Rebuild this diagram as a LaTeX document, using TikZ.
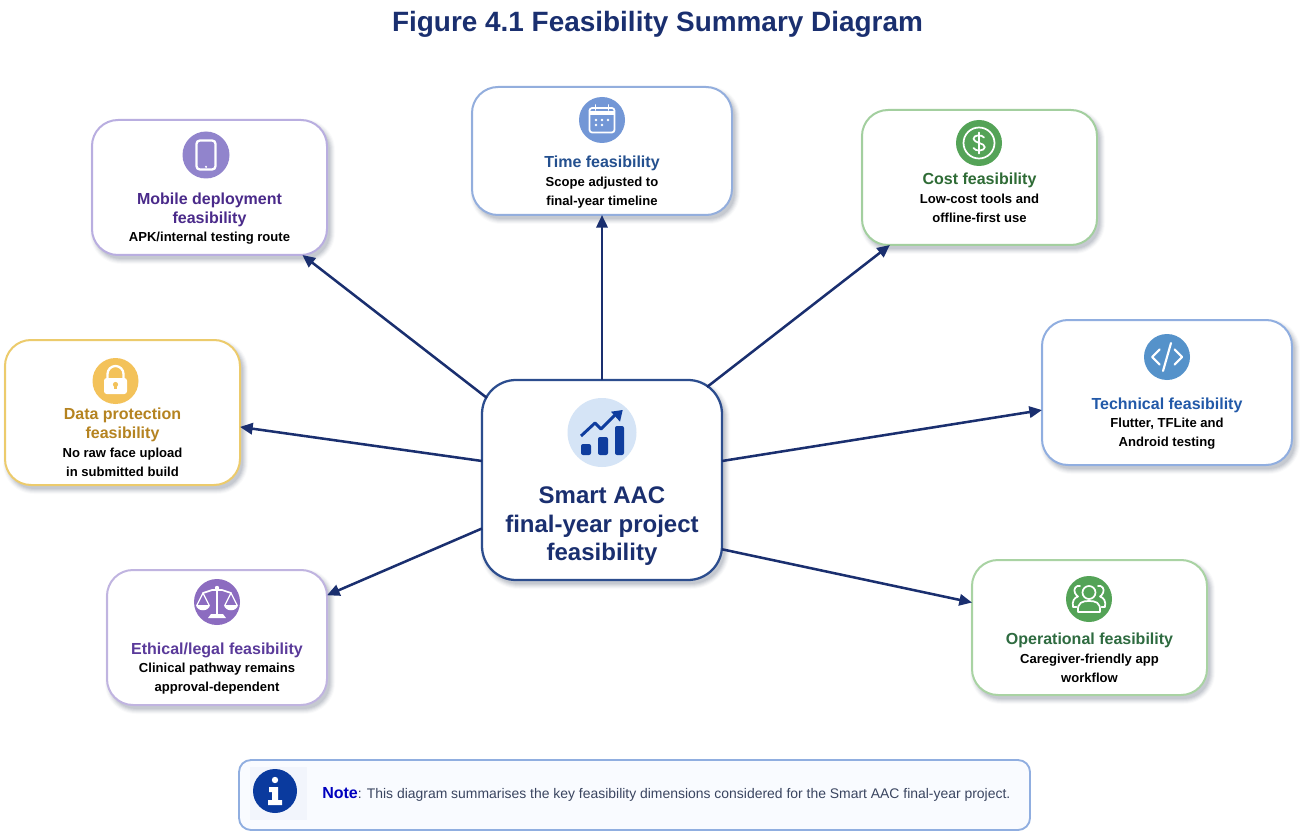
\documentclass[tikz,border=0pt]{standalone}
\usepackage{fontspec}
\setmainfont{Liberation Sans}
\usetikzlibrary{arrows.meta,calc}
\definecolor{navy}{HTML}{1A2F6F}
\definecolor{cborder}{HTML}{2C4D8E}
\definecolor{iconblue}{HTML}{0F3D9E}
\definecolor{notenavy}{HTML}{0A3A9E}
\definecolor{shadowcol}{HTML}{5A6478}
\definecolor{paleblue}{HTML}{D5E4F6}
\definecolor{notefill}{HTML}{F9FBFF}
\definecolor{notepale}{HTML}{F2F5FC}
\definecolor{notetxt}{HTML}{3A4560}
\definecolor{mobB}{HTML}{B9AEE0}\definecolor{mobI}{HTML}{9184CC}\definecolor{mobH}{HTML}{4A2A8A}
\definecolor{timB}{HTML}{93AEDD}\definecolor{timI}{HTML}{7397D6}\definecolor{timH}{HTML}{24508F}
\definecolor{cosB}{HTML}{A3CF9F}\definecolor{cosI}{HTML}{54A357}\definecolor{cosH}{HTML}{2E6B35}
\definecolor{tecB}{HTML}{90AEE0}\definecolor{tecI}{HTML}{5592CA}\definecolor{tecH}{HTML}{2259A8}
\definecolor{datB}{HTML}{ECCB6C}\definecolor{datI}{HTML}{F3C25A}\definecolor{datH}{HTML}{B58320}
\definecolor{ethB}{HTML}{C0B4E0}\definecolor{ethI}{HTML}{8C6CC0}\definecolor{ethH}{HTML}{5A3A9A}
\definecolor{opeB}{HTML}{A9D3A3}\definecolor{opeI}{HTML}{54A357}\definecolor{opeH}{HTML}{2E6B40}
\tikzset{
  x=0.75pt,y=-0.75pt,
  link/.style={draw=navy,line width=1.9pt,-{Triangle[length=9.5pt,width=8.5pt]}},
  heading/.style={font=\bfseries\fontsize{12pt}{14.3pt}\selectfont,align=center,inner sep=0pt},
  subtext/.style={font=\bfseries\fontsize{9.8pt}{14.3pt}\selectfont,align=center,inner sep=0pt,text=black},
  glyph/.style={draw=white,line width=1.3pt,line cap=round,line join=round,fill=none},
}
% name, cx, cy, w, h, radius, border colour, line width
\newcommand{\cardbox}[8]{%
  \foreach \e/\o in {5/0.03,4/0.05,3/0.06,2/0.08,1/0.09,0/0.10}{
    \fill[shadowcol,opacity=\o,rounded corners={(#6+\e)*0.75pt}]
      ({#2+3-#4/2-\e},{#3+4-#5/2-\e}) rectangle ({#2+3+#4/2+\e},{#3+4+#5/2+\e});
  }
  \node[draw=#7,line width=#8,fill=white,rounded corners=#6*0.75pt,inner sep=0pt,outer sep=0pt,
        minimum width=#4*0.75pt,minimum height=#5*0.75pt] (#1) at (#2,#3) {};
}
\begin{document}
\begin{tikzpicture}
\useasboundingbox (0,0) rectangle (1300,831);
\node[font=\bfseries\fontsize{20.95pt}{24pt}\selectfont,text=navy,inner sep=0pt] (title) at (657.5,24) {Figure 4.1 Feasibility Summary Diagram};

% cards
\cardbox{mobile}{209.5}{187.5}{235}{135}{26}{mobB}{1.5pt}
\cardbox{time}{602}{151}{260}{128}{26}{timB}{1.5pt}
\cardbox{cost}{979.5}{177.5}{235}{135}{26}{cosB}{1.5pt}
\cardbox{tech}{1167}{392.5}{250}{145}{26}{tecB}{1.5pt}
\cardbox{data}{122.5}{412.5}{235}{145}{26}{datB}{1.5pt}
\cardbox{ethic}{217}{637.5}{220}{135}{26}{ethB}{1.5pt}
\cardbox{oper}{1089.5}{627.5}{235}{135}{26}{opeB}{1.5pt}
\cardbox{centre}{602}{480}{240}{200}{34}{cborder}{1.7pt}

% ports on the rounded corners of the central card
\coordinate (portmobile) at ($(centre.center)+(-115,-82)$);
\coordinate (portcost) at ($(centre.center)+(105,-93)$);

% connectors
\draw[link] (portmobile) -- (mobile.-36.7);
\draw[link] (centre.north) -- (time.south);
\draw[link] (portcost) -- (cost.217.4);
\draw[link] (centre.9) -- (tech.188.4);
\draw[link] (centre.171.9) -- (data.-7.5);
\draw[link] (centre.202.2) -- (ethic.21.8);
\draw[link] (centre.-30.3) -- (oper.168.3);

% central icon
\fill[paleblue] (602,432.5) circle[radius=34.5];
\begin{scope}[shift={(602,432)}]
  \fill[iconblue,rounded corners=1.5pt] (-21,12) rectangle (-11,23);
  \fill[iconblue,rounded corners=1.5pt] (-4,5) rectangle (6,23);
  \fill[iconblue,rounded corners=1.5pt] (13,-6) rectangle (22,23);
  \draw[iconblue,line width=2.2pt,line join=round] (-21,4) -- (-7,-9) -- (-1,-3) -- (15,-19);
  \fill[iconblue] (20.7,-22) -- (9,-20.3) -- (18,-10.3) -- cycle;
\end{scope}
\node[font=\bfseries\fontsize{18pt}{21.3pt}\selectfont,text=navy,align=center,inner sep=0pt] (centretext) at (602,526.5) {Smart AAC\\final-year project\\feasibility};

% mobile
\fill[mobI] (206,155) circle[radius=23.5];
\begin{scope}[shift={(206,155)}]
  \draw[glyph,line width=1.7pt,rounded corners=2.5pt] (-9.5,-14.5) rectangle (9.5,14.5);
  \fill[white] (0,11.8) circle[radius=1.2];
\end{scope}
\node[heading,text=mobH] (mobilehead) at (209.5,209.5) {Mobile deployment\\feasibility};
\node[subtext] (mobilesub) at (209.5,238.5) {APK/internal testing route};

% time
\fill[timI] (602,120) circle[radius=23];
\begin{scope}[shift={(602,120)}]
  \draw[glyph,rounded corners=2pt] (-12.5,-12) rectangle (12.5,12.5);
  \fill[white] (-12.5,-8.5) rectangle (12.5,-5);
  \draw[glyph] (-6.5,-15) -- (-6.5,-10);
  \draw[glyph] (6.5,-15) -- (6.5,-10);
  \foreach \px/\py in {-6/0,0/0,6/0,-6/5,0/5}{\fill[white] (\px,\py) circle[radius=1.4];}
\end{scope}
\node[heading,text=timH] (timehead) at (602,163) {Time feasibility};
\node[subtext] (timesub) at (602,192.5) {Scope adjusted to\\final-year timeline};

% cost
\fill[cosI] (979,143) circle[radius=23];
\begin{scope}[shift={(979,143)}]
  \draw[glyph] (0,0) circle[radius=15.5];
  \draw[glyph] (5,-5.5) .. controls (3.5,-8.5) and (-6,-8.5) .. (-5.5,-4) .. controls (-5,0) and (6,0) .. (5.8,4.2) .. controls (5.5,8.5) and (-4,8.5) .. (-5.5,5);
  \draw[glyph] (0,-10.5) -- (0,10.5);
\end{scope}
\node[heading,text=cosH] (costhead) at (979.5,180) {Cost feasibility};
\node[subtext] (costsub) at (979.5,208.5) {Low-cost tools and\\offline-first use};

% technical
\fill[tecI] (1167,357) circle[radius=23];
\begin{scope}[shift={(1167,357)}]
  \draw[glyph,line width=1.6pt] (-7.5,-7.5) -- (-15,0) -- (-7.5,7.5);
  \draw[glyph,line width=1.6pt] (7.5,-7.5) -- (15,0) -- (7.5,7.5);
  \draw[glyph,line width=1.6pt] (4,-14) -- (-4,14);
\end{scope}
\node[heading,text=tecH] (techhead) at (1167,405) {Technical feasibility};
\node[subtext] (techsub) at (1167,433.5) {Flutter, TFLite and\\Android testing};

% data
\fill[datI] (115.5,381) circle[radius=23];
\begin{scope}[shift={(115.5,381)}]
  \draw[glyph,line width=1.7pt] (-8,-3) -- (-8,-7) arc[start angle=180,end angle=360,radius=8] -- (8,-3);
  \fill[white,rounded corners=2pt] (-11.5,-3) rectangle (11.5,13);
  \fill[datI] (0,3.5) circle[radius=2.6];
  \fill[datI] (-1.1,3.5) rectangle (1.1,8);
\end{scope}
\node[heading,text=datH] (datahead) at (122.5,424.5) {Data protection\\feasibility};
\node[subtext] (datasub) at (122.5,462.5) {No raw face upload\\in submitted build};

% ethical
\fill[ethI] (217,602) circle[radius=23];
\begin{scope}[shift={(217,602)}]
  \draw[glyph] (-14,-9) -- (-5,-12) -- (5,-12) -- (14,-9);
  \draw[glyph,line width=1.6pt] (0,-14) -- (0,12);
  \fill[white] (0,-14) circle[radius=2.2];
  \fill[white] (-9,16) -- (-6,12) -- (6,12) -- (9,16) -- cycle;
  % left pan
  \draw[glyph,line width=1pt] (-14,-9) -- (-20,3) (-14,-9) -- (-8,3);
  \fill[white] (-21,3) .. controls (-20,10) and (-8,10) .. (-7,3) -- cycle;
  % right pan
  \draw[glyph,line width=1pt] (14,-9) -- (20,3) (14,-9) -- (8,3);
  \fill[white] (21,3) .. controls (20,10) and (8,10) .. (7,3) -- cycle;
\end{scope}
\node[heading,text=ethH] (ethichead) at (217,650) {Ethical/legal feasibility};
\node[subtext] (ethicsub) at (217,678.5) {Clinical pathway remains\\approval-dependent};

% operational
\fill[opeI] (1089,599) circle[radius=23];
\begin{scope}[shift={(1089,599)}]
  \draw[glyph] (0,-6.5) circle[radius=6.5];
  \draw[glyph] (-11,13) .. controls (-12,3) and (-6,2) .. (0,2) .. controls (6,2) and (12,3) .. (11,13) -- cycle;
  \draw[glyph] (-9,-13) .. controls (-13,-14) and (-16,-10) .. (-14,-6) .. controls (-13,-4) and (-12,-3) .. (-11,-2.5) .. controls (-15,-1) and (-17,2) .. (-16,8) -- (-12.5,8);
  \draw[glyph] (9,-13) .. controls (13,-14) and (16,-10) .. (14,-6) .. controls (13,-4) and (12,-3) .. (11,-2.5) .. controls (15,-1) and (17,2) .. (16,8) -- (12.5,8);
\end{scope}
\node[heading,text=opeH] (operhead) at (1089.5,640) {Operational feasibility};
\node[subtext] (opersub) at (1089.5,668.5) {Caregiver-friendly app\\workflow};

% note
\node[draw=tecB,line width=1.4pt,fill=notefill,rounded corners=12*0.75pt,inner sep=0pt,outer sep=0pt,
      minimum width=791*0.75pt,minimum height=70*0.75pt] (note) at (634.5,795) {};
\fill[notepale] (250,767) rectangle (307,820);
\fill[notenavy] (275,791) circle[radius=22];
\begin{scope}[shift={(275,791)}]
  \fill[white] (0,-11) circle[radius=3.2];
  \fill[white] (-6,-4) -- (3,-4) -- (3,9) -- (7,9) -- (7,14) -- (-7,14) -- (-7,9) -- (-3,9) -- (-3,1) -- (-6,1) -- cycle;
\end{scope}
\node[anchor=west,inner sep=0pt,font=\fontsize{10.45pt}{12pt}\selectfont,text=notetxt] (notetext) at (322,794) {{\bfseries\fontsize{12pt}{12pt}\selectfont\color[HTML]{0000BE}Note}: This diagram summarises the key feasibility dimensions considered for the Smart AAC final-year project.};
\end{tikzpicture}
\end{document}
